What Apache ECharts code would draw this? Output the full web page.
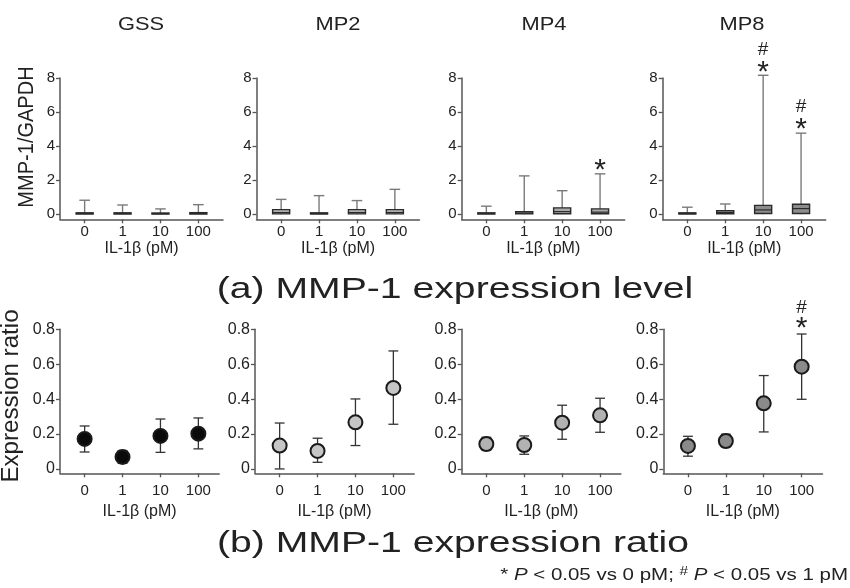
<!DOCTYPE html>
<html><head><meta charset="utf-8">
<script src="https://cdn.jsdelivr.net/npm/echarts@6/dist/echarts.min.js"></script>
<style>html,body{margin:0;padding:0;background:#fff}#c{width:850px;height:588px}</style>
</head><body><div id="c"></div><script>
// ---------- data ----------
const doses = ['0', '1', '10', '100'];
const groups = ['GSS', 'MP2', 'MP4', 'MP8'];
const topTicks = [0, 2, 4, 6, 8];
const botTicks = [0, 0.2, 0.4, 0.6, 0.8];
// box plots: [min, Q1, median, Q3, max] per dose
const boxGSS = [[0, 0.01, 0.04, 0.08, 0.82], [0, 0.01, 0.04, 0.08, 0.54], [0, 0.01, 0.03, 0.07, 0.31], [0, 0.01, 0.04, 0.09, 0.56]];
const boxMP2 = [[0, 0.02, 0.10, 0.27, 0.87], [0, 0.01, 0.04, 0.08, 1.09], [0, 0.02, 0.10, 0.27, 0.80], [0, 0.02, 0.10, 0.27, 1.46]];
const boxMP4 = [[0, 0.01, 0.04, 0.08, 0.47], [0, 0.02, 0.06, 0.14, 2.25], [0, 0.03, 0.15, 0.37, 1.38], [0, 0.03, 0.12, 0.31, 2.37]];
const boxMP8 = [[0, 0.01, 0.04, 0.08, 0.41], [0, 0.03, 0.10, 0.21, 0.60], [0, 0.04, 0.25, 0.52, 8.16], [0, 0.04, 0.33, 0.58, 4.76]];
// expression ratio: mean, lower, upper
const ratioGSS = [0.172, 0.069, 0.189, 0.202];
const lowGSS = [0.097, 0.032, 0.095, 0.115];
const highGSS = [0.246, 0.105, 0.286, 0.292];
const ratioMP2 = [0.134, 0.103, 0.267, 0.464];
const lowMP2 = [0.0, 0.038, 0.134, 0.256];
const highMP2 = [0.263, 0.176, 0.401, 0.676];
const ratioMP4 = [0.143, 0.137, 0.265, 0.307];
const lowMP4 = [0.107, 0.084, 0.170, 0.210];
const highMP4 = [0.181, 0.189, 0.365, 0.405];
const ratioMP8 = [0.132, 0.160, 0.376, 0.586];
const lowMP8 = [0.073, 0.126, 0.212, 0.399];
const highMP8 = [0.187, 0.199, 0.535, 0.773];
// significance marks
const starTop = [['', '', '', ''], ['', '', '', ''], ['', '', '', '*'], ['', '', '*', '*']];
const hashTop = [['', '', '', ''], ['', '', '', ''], ['', '', '', ''], ['', '', '#', '#']];
const starBot = [['', '', '', ''], ['', '', '', ''], ['', '', '', ''], ['', '', '', '*']];
const hashBot = [['', '', '', ''], ['', '', '', ''], ['', '', '', ''], ['', '', '', '#']];

// ---------- style ----------
const ff = '"Liberation Sans", Arial, Helvetica, sans-serif';
const txt = '#222';
const axisCol = '#555';
const boxes = [boxGSS, boxMP2, boxMP4, boxMP8];
const ratios = [ratioGSS, ratioMP2, ratioMP4, ratioMP8];
const lows = [lowGSS, lowMP2, lowMP4, lowMP8];
const highs = [highGSS, highMP2, highMP4, highMP8];
const boxFill = ['#444', '#bdbdbd', '#aaaaaa', '#8c8c8c'];
const dotFill = ['#0a0a0a', '#c6c6c6', '#b2b2b2', '#8a8a8a'];
const topLefts = [60, 256.5, 461.7, 662.7];
const botLefts = [60, 255, 461.7, 663.3];
const titleX = [141, 338, 544, 742];

function sigTexts(cx, yTop, star, hash, starOff, hashOff) {
  const out = [];
  if (star) out.push({type: 'text', x: cx, y: yTop - starOff, style: {text: star, fontSize: 30, fontFamily: ff, fill: txt, align: 'center', verticalAlign: 'middle'}});
  if (hash) out.push({type: 'text', x: cx, y: yTop - hashOff, style: {text: hash, fontSize: 19, fontFamily: ff, fill: txt, align: 'center', verticalAlign: 'middle'}});
  return out;
}

function makeBox(g) {
  return function (params, api) {
    const x = api.value(0);
    const mn = api.value(1), q1 = api.value(2), md = api.value(3), q3 = api.value(4), mx = api.value(5);
    const band = api.size([1, 0])[0];
    const hw = band * 0.225, cw = band * 0.14;
    const pMax = api.coord([x, mx]), pQ3 = api.coord([x, q3]), pQ1 = api.coord([x, q1]);
    const pMin = api.coord([x, mn]), pMd = api.coord([x, md]);
    const cx = pMax[0];
    const wl = {stroke: '#7a7a7a', lineWidth: 1.4};
    const children = [
      {type: 'line', shape: {x1: cx, y1: pQ3[1], x2: cx, y2: pMax[1]}, style: wl},
      {type: 'line', shape: {x1: cx - cw, y1: pMax[1], x2: cx + cw, y2: pMax[1]}, style: wl},
      {type: 'line', shape: {x1: cx, y1: pQ1[1], x2: cx, y2: pMin[1]}, style: wl},
      {type: 'rect', shape: {x: cx - hw, y: pQ3[1], width: 2 * hw, height: Math.max(pQ1[1] - pQ3[1], 1)}, style: {fill: boxFill[g], stroke: '#2a2a2a', lineWidth: 1.4}},
      {type: 'line', shape: {x1: cx - hw, y1: pMd[1], x2: cx + hw, y2: pMd[1]}, style: {stroke: '#2a2a2a', lineWidth: 1.2}}
    ];
    const i = params.dataIndex;
    return {type: 'group', children: children.concat(sigTexts(cx, pMax[1], starTop[g][i], hashTop[g][i], 3, 26))};
  };
}

function makeErr(g) {
  return function (params, api) {
    const x = api.value(0);
    const lo = api.coord([x, api.value(1)]), hi = api.coord([x, api.value(2)]);
    const band = api.size([1, 0])[0];
    const cw = band * 0.13;
    const cx = lo[0];
    const st = {stroke: '#333', lineWidth: 1.3};
    const i = params.dataIndex;
    const children = [
      {type: 'line', shape: {x1: cx, y1: lo[1], x2: cx, y2: hi[1]}, style: st},
      {type: 'line', shape: {x1: cx - cw, y1: lo[1], x2: cx + cw, y2: lo[1]}, style: st},
      {type: 'line', shape: {x1: cx - cw, y1: hi[1], x2: cx + cw, y2: hi[1]}, style: st}
    ];
    return {type: 'group', children: children.concat(sigTexts(cx, hi[1], starBot[g][i], hashBot[g][i], 5, 26))};
  };
}

const grids = [], xAxes = [], yAxes = [], series = [];
for (let r = 0; r < 2; r++) {
  for (let g = 0; g < 4; g++) {
    const top = r === 0;
    grids.push(top
      ? {left: topLefts[g], top: 78, width: 163, height: 141.3, outerBoundsMode: 'none', containLabel: false}
      : {left: botLefts[g], top: 329.3, width: 159.2, height: 144, outerBoundsMode: 'none', containLabel: false});
    const gi = grids.length - 1;
    xAxes.push({
      gridIndex: gi, type: 'value', min: -0.65, max: top ? 3.65 : 3.55,
      axisLine: {onZero: false, lineStyle: {color: axisCol, width: 1.5}},
      axisTick: {customValues: [0, 1, 2, 3], length: 4, lineStyle: {color: axisCol, width: 1.3}},
      axisLabel: {customValues: [0, 1, 2, 3], margin: top ? 5 : 10, formatter: v => doses[Math.round(v)],
        fontSize: 15, color: txt, fontFamily: ff},
      splitLine: {show: false},
      name: 'IL-1β (pM)', nameLocation: 'middle', nameGap: top ? 21 : 30,
      nameTextStyle: {fontSize: 16, color: txt, fontFamily: ff}
    });
    yAxes.push({
      gridIndex: gi, type: 'value', min: top ? -0.3 : -0.025, max: top ? 8 : 0.8,
      axisLine: {show: true, onZero: false, lineStyle: {color: axisCol, width: 1.5}},
      axisTick: {show: true, customValues: top ? topTicks : botTicks, length: 4, lineStyle: {color: axisCol, width: 1.3}},
      axisLabel: {customValues: top ? topTicks : botTicks, margin: 5,
        formatter: v => (v === 0 ? '0' : (top ? String(v) : (Math.round(v * 10) / 10).toFixed(1))),
        fontSize: top ? 15 : 16, color: txt, fontFamily: ff},
      splitLine: {show: false}
    });
    if (top) {
      series.push({
        type: 'custom', xAxisIndex: gi, yAxisIndex: gi, z: 3,
        data: boxes[g].map((b, i) => [i].concat(b)),
        encode: {x: 0, y: [1, 2, 3, 4, 5]},
        renderItem: makeBox(g), silent: true, animation: false
      });
    } else {
      series.push({
        type: 'custom', xAxisIndex: gi, yAxisIndex: gi, z: 2,
        data: ratios[g].map((v, i) => [i, lows[g][i], highs[g][i]]),
        encode: {x: 0, y: [1, 2]},
        renderItem: makeErr(g), silent: true, animation: false
      });
      series.push({
        type: 'scatter', xAxisIndex: gi, yAxisIndex: gi, z: 4,
        data: ratios[g].map((v, i) => [i, v]),
        symbol: 'circle', symbolSize: 14,
        itemStyle: {color: dotFill[g], borderColor: '#1a1a1a', borderWidth: 2, opacity: 1},
        silent: true, animation: false
      });
    }
  }
}

const graphic = [];
groups.forEach((name, g) => graphic.push({type: 'text', x: titleX[g], y: 25, scaleX: 1.15,
  style: {text: name, fontSize: 19, fontFamily: ff, fill: txt, align: 'center', verticalAlign: 'middle'}}));
graphic.push({type: 'text', x: 27, y: 137, rotation: Math.PI / 2, scaleX: 0.91,
  style: {text: 'MMP-1/GAPDH', fontSize: 22, fontFamily: ff, fill: txt, align: 'center', verticalAlign: 'middle'}});
graphic.push({type: 'text', x: 12, y: 396, rotation: Math.PI / 2, scaleX: 1.05,
  style: {text: 'Expression ratio', fontSize: 23, fontFamily: ff, fill: txt, align: 'center', verticalAlign: 'middle'}});
graphic.push({type: 'text', x: 455, y: 290, scaleX: 1.35,
  style: {text: '(a) MMP-1 expression level', fontSize: 29, fontFamily: ff, fill: txt, align: 'center', verticalAlign: 'middle'}});
graphic.push({type: 'text', x: 453, y: 544, scaleX: 1.35,
  style: {text: '(b) MMP-1 expression ratio', fontSize: 29, fontFamily: ff, fill: txt, align: 'center', verticalAlign: 'middle'}});
graphic.push({type: 'text', x: 848, y: 576, scaleX: 1.28,
  style: {text: '* {i|P} < 0.05 vs 0 pM; {s|#} {i|P} < 0.05 vs 1 pM', fontSize: 16, fontFamily: ff, fill: txt,
    align: 'right', verticalAlign: 'middle',
    rich: {i: {fontStyle: 'italic', fontSize: 16, fontFamily: ff, color: txt},
           s: {fontSize: 12, fontFamily: ff, color: txt, padding: [0, 0, 9, 0]}}}});

const chart = echarts.init(document.getElementById('c'), null, {renderer: 'canvas'});
chart.setOption({
  animation: false,
  backgroundColor: '#fff',
  grid: grids, xAxis: xAxes, yAxis: yAxes, series: series, graphic: graphic
});
</script></body></html>
